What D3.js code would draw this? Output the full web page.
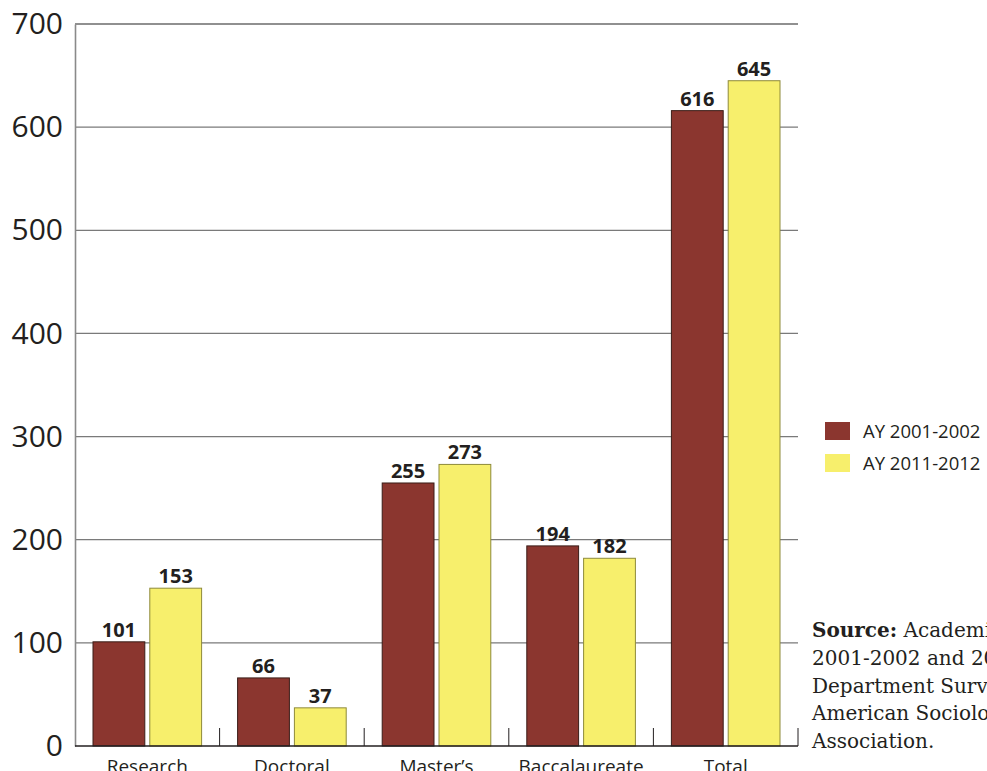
<!DOCTYPE html>
<html>
<head>
<meta charset="utf-8">
<script src="https://cdn.jsdelivr.net/npm/d3@7"></script>
<style>
  html, body { margin: 0; padding: 0; background: #fff; overflow: hidden; }
  svg { display: block; }
</style>
</head>
<body>
<svg id="chart" width="987" height="771"></svg>
<script>
const categories = ['Research', 'Doctoral', 'Master\u2019s', 'Baccalaureate', 'Total']
const seriesNames = ['AY 2001-2002', 'AY 2011-2012']
const values2001 = [101, 66, 255, 194, 616]
const values2011 = [153, 37, 273, 182, 645]
const yTicks = [0, 100, 200, 300, 400, 500, 600, 700]
const sourceLines = [
    ['Source:', ' Academic Year'],
    ['', '2001-2002 and 2011-2012'],
    ['', 'Department Surveys,'],
    ['', 'American Sociological'],
    ['', 'Association.']
]

const COLORS = ['#8b362f', '#f7ef6c']
const STROKES = ['#3a1d18', '#8e8a3a']

const MARGIN = { top: 24, left: 75, right: 189, bottom: 25 }
const width = 987, height = 771
const innerWidth = width - MARGIN.left - MARGIN.right
const innerHeight = height - MARGIN.top - MARGIN.bottom

const svg = d3.select('#chart')
const g = svg.append('g').attr('transform', `translate(${MARGIN.left},${MARGIN.top})`)

const x0 = d3.scaleBand().domain(categories).range([0, innerWidth])
const x1 = d3.scaleBand().domain(seriesNames)
    .range([18, x0.bandwidth() - 18]).paddingInner(0.088)
const y = d3.scaleLinear().domain([0, 700]).range([innerHeight, 0])

// Gridlines
g.append('g').selectAll('line').data(yTicks.filter(t => t > 0)).enter()
    .append('line')
    .attr('x1', 0).attr('x2', innerWidth)
    .attr('y1', d => y(d)).attr('y2', d => y(d))
    .attr('stroke', d => d === 700 ? '#222' : '#7a7a7a')
    .attr('stroke-width', 1.2)

// Y axis
const yAxis = g.append('g')
    .call(d3.axisLeft(y).tickValues(yTicks).tickSize(0).tickPadding(12))
yAxis.select('.domain').attr('stroke', '#8a8a8a').attr('stroke-width', 1.6)
yAxis.selectAll('text')
    .style('font-family', '"Open Sans", sans-serif')
    .style('font-size', '30px')
    .attr('fill', '#231f20')

// Bars
const data = categories.map((c, i) => ({ cat: c, vals: [values2001[i], values2011[i]] }))
const groups = g.selectAll('.grp').data(data).enter()
    .append('g').attr('class', 'grp')
    .attr('transform', d => `translate(${x0(d.cat)},0)`)

groups.selectAll('rect')
    .data(d => d.vals.map((v, k) => ({ name: seriesNames[k], v, k })))
    .enter().append('rect')
    .attr('x', d => x1(d.name))
    .attr('y', d => y(d.v))
    .attr('width', x1.bandwidth())
    .attr('height', d => innerHeight - y(d.v))
    .attr('fill', d => COLORS[d.k])
    .attr('stroke', d => STROKES[d.k])
    .attr('stroke-width', 1)

groups.selectAll('.val')
    .data(d => d.vals.map((v, k) => ({ name: seriesNames[k], v, k })))
    .enter().append('text')
    .attr('class', 'val')
    .attr('x', d => x1(d.name) + x1.bandwidth() / 2)
    .attr('y', d => y(d.v) - 5)
    .attr('text-anchor', 'middle')
    .style('font-family', '"Open Sans", sans-serif')
    .style('font-weight', 'bold')
    .style('font-size', '20px')
    .attr('fill', '#231f20')
    .text(d => d.v)

// X axis: baseline, separator ticks and labels
g.append('line')
    .attr('x1', 0).attr('x2', innerWidth)
    .attr('y1', innerHeight).attr('y2', innerHeight)
    .attr('stroke', '#231f20').attr('stroke-width', 1.4)

const boundaries = categories.slice(1).map(c => x0(c)).concat([innerWidth])
g.append('g').selectAll('line').data(boundaries).enter()
    .append('line')
    .attr('x1', d => d).attr('x2', d => d)
    .attr('y1', innerHeight).attr('y2', innerHeight - 18)
    .attr('stroke', '#231f20').attr('stroke-width', 1)

g.append('g').selectAll('text').data(categories).enter()
    .append('text')
    .attr('x', d => x0(d) + x0.bandwidth() / 2)
    .attr('y', innerHeight + 27)
    .attr('text-anchor', 'middle')
    .style('font-family', '"Open Sans", sans-serif')
    .style('font-size', '19px')
    .attr('fill', '#231f20')
    .text(d => d)

// Legend
const legend = svg.append('g').attr('transform', 'translate(825,422)')
const li = legend.selectAll('g').data(seriesNames).enter()
    .append('g').attr('transform', (d, i) => `translate(0,${i * 32})`)
li.append('rect').attr('width', 25).attr('height', 18)
    .attr('fill', (d, i) => COLORS[i])
li.append('text')
    .attr('x', 38).attr('y', 15.5)
    .style('font-family', '"Open Sans", sans-serif')
    .style('font-size', '18.5px')
    .attr('fill', '#231f20')
    .text(d => d)

// Source note
const src = svg.append('text')
    .style('font-family', '"DejaVu Serif", serif')
    .style('font-size', '20px')
    .attr('fill', '#231f20')
src.selectAll('tspan.line').data(sourceLines).enter()
    .append('tspan')
    .attr('x', 812)
    .attr('y', (d, i) => 637 + i * 27.8)
    .each(function (d) {
        const t = d3.select(this)
        if (d[0]) t.append('tspan').style('font-weight', 'bold').text(d[0])
        t.append('tspan').text(d[1])
    })
</script>
</body>
</html>
